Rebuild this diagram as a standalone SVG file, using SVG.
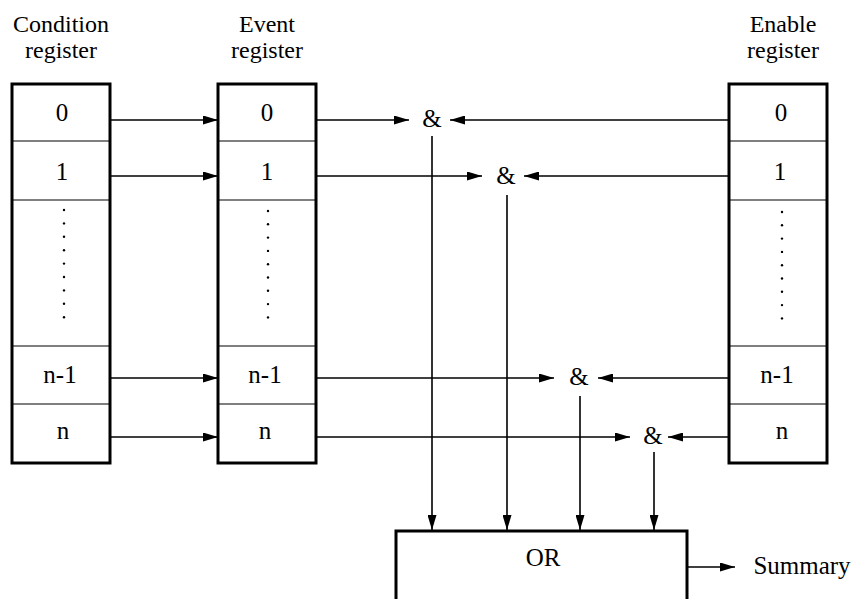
<svg xmlns="http://www.w3.org/2000/svg" width="856" height="599" viewBox="0 0 856 599">
<style>
text{font-family:"Liberation Serif","Times New Roman","DejaVu Serif","Noto Serif",serif;font-size:25px;fill:#000;text-anchor:middle}
.lbl{font-size:24px}
.box{fill:#fff;stroke:#000;stroke-width:3}
.div{stroke:#000;stroke-width:1.2}
.c{fill:none;stroke:#000;stroke-width:1.6}
.dot{fill:#000}
</style>
<defs>
<marker id="ah" markerUnits="userSpaceOnUse" markerWidth="16" markerHeight="9" refX="15" refY="4.5" orient="auto">
<path d="M0,0 L15,4.5 L0,9 z" fill="#000"/>
</marker>
</defs>
<g id="condition">
<text class="lbl" x="61" y="32">Condition</text>
<text class="lbl" x="61" y="58">register</text>
<rect class="box" x="12" y="84" width="98" height="379"/>
<line class="div" x1="12" y1="141" x2="110" y2="141"/>
<line class="div" x1="12" y1="200" x2="110" y2="200"/>
<line class="div" x1="12" y1="346" x2="110" y2="346"/>
<line class="div" x1="12" y1="404" x2="110" y2="404"/>
<text x="62" y="121">0</text>
<text x="62" y="180">1</text>
<g class="dot"><circle cx="64" cy="210" r="1.2"/><circle cx="64" cy="223.4" r="1.2"/><circle cx="64" cy="236.8" r="1.2"/><circle cx="64" cy="250.2" r="1.2"/><circle cx="64" cy="263.6" r="1.2"/><circle cx="64" cy="277" r="1.2"/><circle cx="64" cy="290.4" r="1.2"/><circle cx="64" cy="303.8" r="1.2"/><circle cx="64" cy="317.2" r="1.2"/></g>
<text x="60" y="383">n-1</text>
<text x="63" y="439">n</text>
</g>
<g id="event">
<text class="lbl" x="267" y="32">Event</text>
<text class="lbl" x="267" y="58">register</text>
<rect class="box" x="218" y="84" width="98" height="379"/>
<line class="div" x1="218" y1="141" x2="316" y2="141"/>
<line class="div" x1="218" y1="200" x2="316" y2="200"/>
<line class="div" x1="218" y1="346" x2="316" y2="346"/>
<line class="div" x1="218" y1="404" x2="316" y2="404"/>
<text x="267" y="121">0</text>
<text x="267" y="180">1</text>
<g class="dot"><circle cx="268" cy="211" r="1.2"/><circle cx="268" cy="224.3" r="1.2"/><circle cx="268" cy="237.6" r="1.2"/><circle cx="268" cy="250.9" r="1.2"/><circle cx="268" cy="264.2" r="1.2"/><circle cx="268" cy="277.5" r="1.2"/><circle cx="268" cy="290.8" r="1.2"/><circle cx="268" cy="304.1" r="1.2"/><circle cx="268" cy="317.4" r="1.2"/></g>
<text x="265" y="383">n-1</text>
<text x="265" y="439">n</text>
</g>
<g id="enable">
<text class="lbl" x="783" y="32">Enable</text>
<text class="lbl" x="783" y="58">register</text>
<rect class="box" x="729" y="84" width="98" height="379"/>
<line class="div" x1="729" y1="141" x2="827" y2="141"/>
<line class="div" x1="729" y1="200" x2="827" y2="200"/>
<line class="div" x1="729" y1="346" x2="827" y2="346"/>
<line class="div" x1="729" y1="404" x2="827" y2="404"/>
<text x="781" y="121">0</text>
<text x="780" y="180">1</text>
<g class="dot"><circle cx="782" cy="212" r="1.2"/><circle cx="782" cy="225.3" r="1.2"/><circle cx="782" cy="238.6" r="1.2"/><circle cx="782" cy="251.9" r="1.2"/><circle cx="782" cy="265.2" r="1.2"/><circle cx="782" cy="278.5" r="1.2"/><circle cx="782" cy="291.8" r="1.2"/><circle cx="782" cy="305.1" r="1.2"/><circle cx="782" cy="318.4" r="1.2"/></g>
<text x="777" y="383">n-1</text>
<text x="782" y="439">n</text>
</g>
<g id="and0"><text x="432" y="127">&amp;</text></g>
<g id="and1"><text x="506" y="184">&amp;</text></g>
<g id="andn1"><text x="579" y="385">&amp;</text></g>
<g id="andn"><text x="653" y="444">&amp;</text></g>
<g id="or">
<rect class="box" x="396" y="531" width="291" height="80"/>
<text x="543" y="566">OR</text>
</g>
<g id="summary"><text x="802" y="574">Summary</text></g>
<g id="connectors">
<line class="c" x1="110" y1="120" x2="218" y2="120" marker-end="url(#ah)"/>
<line class="c" x1="110" y1="176" x2="218" y2="176" marker-end="url(#ah)"/>
<line class="c" x1="110" y1="378" x2="218" y2="378" marker-end="url(#ah)"/>
<line class="c" x1="110" y1="437" x2="218" y2="437" marker-end="url(#ah)"/>
<line class="c" x1="316" y1="120" x2="409" y2="120" marker-end="url(#ah)"/>
<line class="c" x1="316" y1="176" x2="482" y2="176" marker-end="url(#ah)"/>
<line class="c" x1="316" y1="378" x2="554" y2="378" marker-end="url(#ah)"/>
<line class="c" x1="316" y1="437" x2="630" y2="437" marker-end="url(#ah)"/>
<line class="c" x1="729" y1="120" x2="450" y2="120" marker-end="url(#ah)"/>
<line class="c" x1="729" y1="176" x2="524" y2="176" marker-end="url(#ah)"/>
<line class="c" x1="729" y1="378" x2="598" y2="378" marker-end="url(#ah)"/>
<line class="c" x1="729" y1="437" x2="668" y2="437" marker-end="url(#ah)"/>
<line class="c" x1="432" y1="136" x2="432" y2="530" marker-end="url(#ah)"/>
<line class="c" x1="507" y1="195" x2="507" y2="530" marker-end="url(#ah)"/>
<line class="c" x1="580" y1="396" x2="580" y2="530" marker-end="url(#ah)"/>
<line class="c" x1="654" y1="452" x2="654" y2="530" marker-end="url(#ah)"/>
<line class="c" x1="687" y1="567" x2="735" y2="567" marker-end="url(#ah)"/>
</g>
</svg>
